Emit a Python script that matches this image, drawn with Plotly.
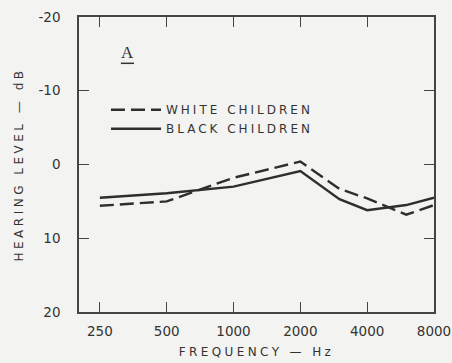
import plotly.graph_objects as go

# Data
freq = [250, 500, 1000, 2000, 3000, 4000, 6000, 8000]
white_children = [5.6, 5.0, 1.8, -0.4, 3.3, 4.6, 6.8, 5.5]
black_children = [4.5, 3.9, 3.0, 0.9, 4.7, 6.2, 5.5, 4.5]

x_ticks = [250, 500, 1000, 2000, 4000, 8000]
x_ticktext = ["250", "500", "1000", "2000", "4000", "8000"]
y_ticks = [-20, -10, 0, 10, 20]
y_ticktext = ["-20", "-10", "0", "10", "20"]

BG = "#f3f3f1"
INK = "#2e2e2e"
TXT = "#333333"
FONT = "DejaVu Sans"

fig = go.Figure()
fig.add_trace(go.Scatter(
    x=freq, y=white_children, mode="lines", name="WHITE CHILDREN",
    line=dict(color=INK, width=2.4, dash="14px,6px"),
))
fig.add_trace(go.Scatter(
    x=freq, y=black_children, mode="lines", name="BLACK CHILDREN",
    line=dict(color=INK, width=2.4),
))

axis_common = dict(
    showgrid=False, zeroline=False, showline=True, linecolor="#444",
    linewidth=1.5, mirror="ticks", ticks="inside", ticklen=10,
    tickwidth=1.3, tickcolor="#444", automargin=False,
    tickfont=dict(family=FONT, size=13.5, color=TXT),
)

fig.update_xaxes(
    type="log", range=[2.304, 3.903],
    tickvals=x_ticks, ticktext=x_ticktext, ticklabelstandoff=6,
    title=dict(text="FREQUENCY — Hz", font=dict(family=FONT, size=12, color=TXT), standoff=10),
    **axis_common,
)
fig.update_yaxes(
    range=[20, -20], tickvals=y_ticks, ticktext=y_ticktext, ticklabelstandoff=14,
    title=dict(text="HEARING LEVEL — dB", font=dict(family=FONT, size=12, color=TXT), standoff=12),
    **axis_common,
)

fig.add_annotation(
    x=0.138, y=0.878, xref="paper", yref="paper", text="A", showarrow=False,
    xanchor="center", yanchor="middle",
    font=dict(family="Liberation Serif", size=17, color=TXT),
)
fig.add_shape(type="line", xref="paper", yref="paper",
              x0=0.118, x1=0.155, y0=0.843, y1=0.843,
              line=dict(color=TXT, width=1.5))

fig.update_layout(
    width=452, height=363,
    margin=dict(l=79, r=18, t=17, b=51),
    paper_bgcolor=BG, plot_bgcolor=BG,
    showlegend=True,
    legend=dict(
        x=0.076, y=0.735, xanchor="left", yanchor="top",
        bgcolor="rgba(0,0,0,0)", borderwidth=0, itemwidth=50,
        font=dict(family=FONT, size=12, color=TXT),
        tracegroupgap=0,
    ),
)

post = """
document.body.style.margin = '0';
document.body.style.background = '#f3f3f1';
var gd = document.getElementById('{plot_id}');
function spaceText(){
  gd.querySelectorAll('.legend .scrollbox').forEach(function(s){s.removeAttribute('clip-path');});
  gd.querySelectorAll('.legendtext').forEach(function(t){t.style.letterSpacing='3px';});
  gd.querySelectorAll('.xtitle').forEach(function(t){t.style.letterSpacing='3.4px';});
  gd.querySelectorAll('.ytitle').forEach(function(t){t.style.letterSpacing='3.5px';});
}
spaceText();
gd.on('plotly_afterplot', spaceText);
"""

fig.write_html("out.html", post_script=post, config={"displayModeBar": False})
